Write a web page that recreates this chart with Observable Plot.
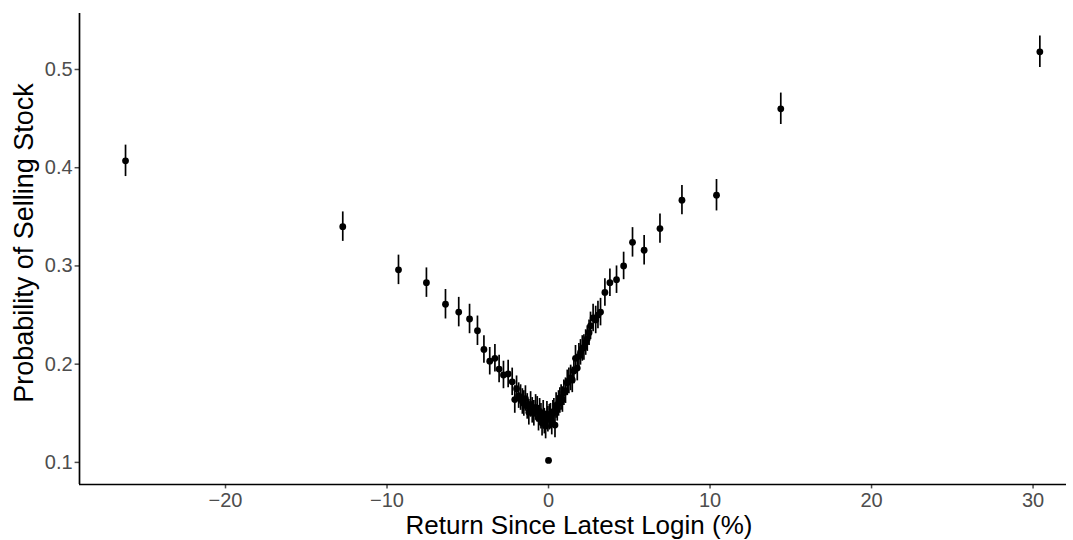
<!DOCTYPE html>
<html>
<head>
<meta charset="utf-8">
<script src="https://cdn.jsdelivr.net/npm/d3@7"></script>
<script src="https://cdn.jsdelivr.net/npm/@observablehq/plot@0.6"></script>
<style>
  html, body { margin: 0; padding: 0; background: #fff; }
</style>
</head>
<body>
<div id="chart"></div>
<script>
// Return since latest login (%) — bin centres
const returnPct = [
  -26.19, -12.74, -9.29, -7.56, -6.38, -5.56, -4.89, -4.40, -4.00, -3.64,
  -3.32, -3.06, -2.79, -2.50, -2.25, -2.09, -1.98, -1.85, -1.73, -1.62,
  -1.53, -1.43, -1.32, -1.22, -1.11, -1.01, -0.91, -0.80, -0.70, -0.62,
  -0.55, -0.47, -0.40, -0.33, -0.26, -0.18, -0.10, -0.04, 0.00, 0.05,
  0.12, 0.20, 0.27, 0.33, 0.40, 0.47, 0.54, 0.62, 0.70, 0.78,
  0.86, 0.95, 1.05, 1.16, 1.26, 1.37, 1.47, 1.57, 1.67, 1.78,
  1.88, 1.98, 2.09, 2.19, 2.30, 2.40, 2.51, 2.60, 2.76, 2.92,
  3.06, 3.22, 3.49, 3.80, 4.21, 4.65, 5.20, 5.92, 6.90, 8.26,
  10.40, 14.38, 30.42
];
// Probability of selling stock
const probSell = [
  0.407, 0.340, 0.296, 0.283, 0.261, 0.253, 0.246, 0.234, 0.215, 0.203,
  0.206, 0.195, 0.189, 0.190, 0.182, 0.164, 0.175, 0.168, 0.166, 0.162,
  0.160, 0.165, 0.157, 0.151, 0.159, 0.153, 0.150, 0.156, 0.154, 0.145,
  0.152, 0.147, 0.140, 0.150, 0.142, 0.137, 0.149, 0.144, 0.102, 0.146,
  0.147, 0.141, 0.150, 0.152, 0.138, 0.158, 0.155, 0.160, 0.163, 0.166,
  0.164, 0.171, 0.173, 0.181, 0.183, 0.186, 0.184, 0.193, 0.206, 0.196,
  0.208, 0.212, 0.216, 0.217, 0.222, 0.226, 0.232, 0.239, 0.247, 0.245,
  0.250, 0.253, 0.273, 0.283, 0.286, 0.300, 0.324, 0.316, 0.338, 0.367,
  0.372, 0.460, 0.518
];
// Half-width of the error bars
const errHalf = [
  0.016, 0.015, 0.015, 0.015, 0.015, 0.015, 0.015, 0.015, 0.014, 0.014,
  0.014, 0.014, 0.014, 0.014, 0.014, 0.014, 0.013, 0.013, 0.013, 0.013,
  0.013, 0.013, 0.013, 0.013, 0.013, 0.013, 0.013, 0.013, 0.013, 0.013,
  0.013, 0.013, 0.013, 0.013, 0.013, 0.013, 0.013, 0.013, 0.001, 0.013,
  0.013, 0.013, 0.013, 0.013, 0.013, 0.013, 0.013, 0.013, 0.013, 0.013,
  0.013, 0.013, 0.013, 0.013, 0.013, 0.013, 0.013, 0.013, 0.013, 0.013,
  0.013, 0.013, 0.013, 0.013, 0.013, 0.013, 0.013, 0.014, 0.014, 0.014,
  0.014, 0.014, 0.014, 0.014, 0.014, 0.014, 0.015, 0.015, 0.015, 0.015,
  0.016, 0.016, 0.016
];
const xTicks = [-20, -10, 0, 10, 20, 30];
const yTicks = [0.1, 0.2, 0.3, 0.4, 0.5];
const xTitle = "Return Since Latest Login (%)";
const yTitle = "Probability of Selling Stock";

const data = returnPct.map((x, i) => ({
  x, y: probSell[i], lo: probSell[i] - errHalf[i], hi: probSell[i] + errHalf[i]
}));

const xDomain = [-29.04, 32.07];
const yDomain = [0.0775, 0.557];

const chart = Plot.plot({
  width: 1073,
  height: 540,
  marginLeft: 79,
  marginRight: 7,
  marginTop: 13,
  marginBottom: 56,
  style: { fontFamily: "'Liberation Sans', Arial, sans-serif", background: "#fff" },
  x: { domain: xDomain },
  y: { domain: yDomain },
  marks: [
    Plot.axisX({
      ticks: xTicks,
      tickFormat: d => (d < 0 ? "\u2212" + Math.abs(d) : String(d)),
      fontSize: 20, tickSize: 4.4, tickPadding: 3.5, color: "#4D4D4D",
      strokeWidth: 1.5, label: null
    }),
    Plot.axisY({
      ticks: yTicks,
      tickFormat: d3.format(".1f"),
      fontSize: 20, tickSize: 4.4, tickPadding: 2.5, color: "#4D4D4D",
      strokeWidth: 1.5, label: null
    }),
    Plot.ruleX([xDomain[0]], { stroke: "black", strokeWidth: 1.7 }),
    Plot.ruleY([yDomain[0]], { stroke: "black", strokeWidth: 1.7 }),
    Plot.ruleX(data, { x: "x", y1: "lo", y2: "hi", stroke: "black", strokeWidth: 1.7 }),
    Plot.dot(data, { x: "x", y: "y", r: 3.4, fill: "black", stroke: "none" }),
    Plot.text([xTitle], {
      frameAnchor: "bottom", textAnchor: "middle", lineAnchor: "middle",
      dx: 6, dy: 41, fontSize: 26, fill: "black"
    }),
    Plot.text([yTitle], {
      frameAnchor: "left", textAnchor: "middle", lineAnchor: "middle",
      dx: -55, dy: -6, rotate: -90, fontSize: 27, fill: "black"
    })
  ]
});
document.getElementById("chart").appendChild(chart);
</script>
</body>
</html>
